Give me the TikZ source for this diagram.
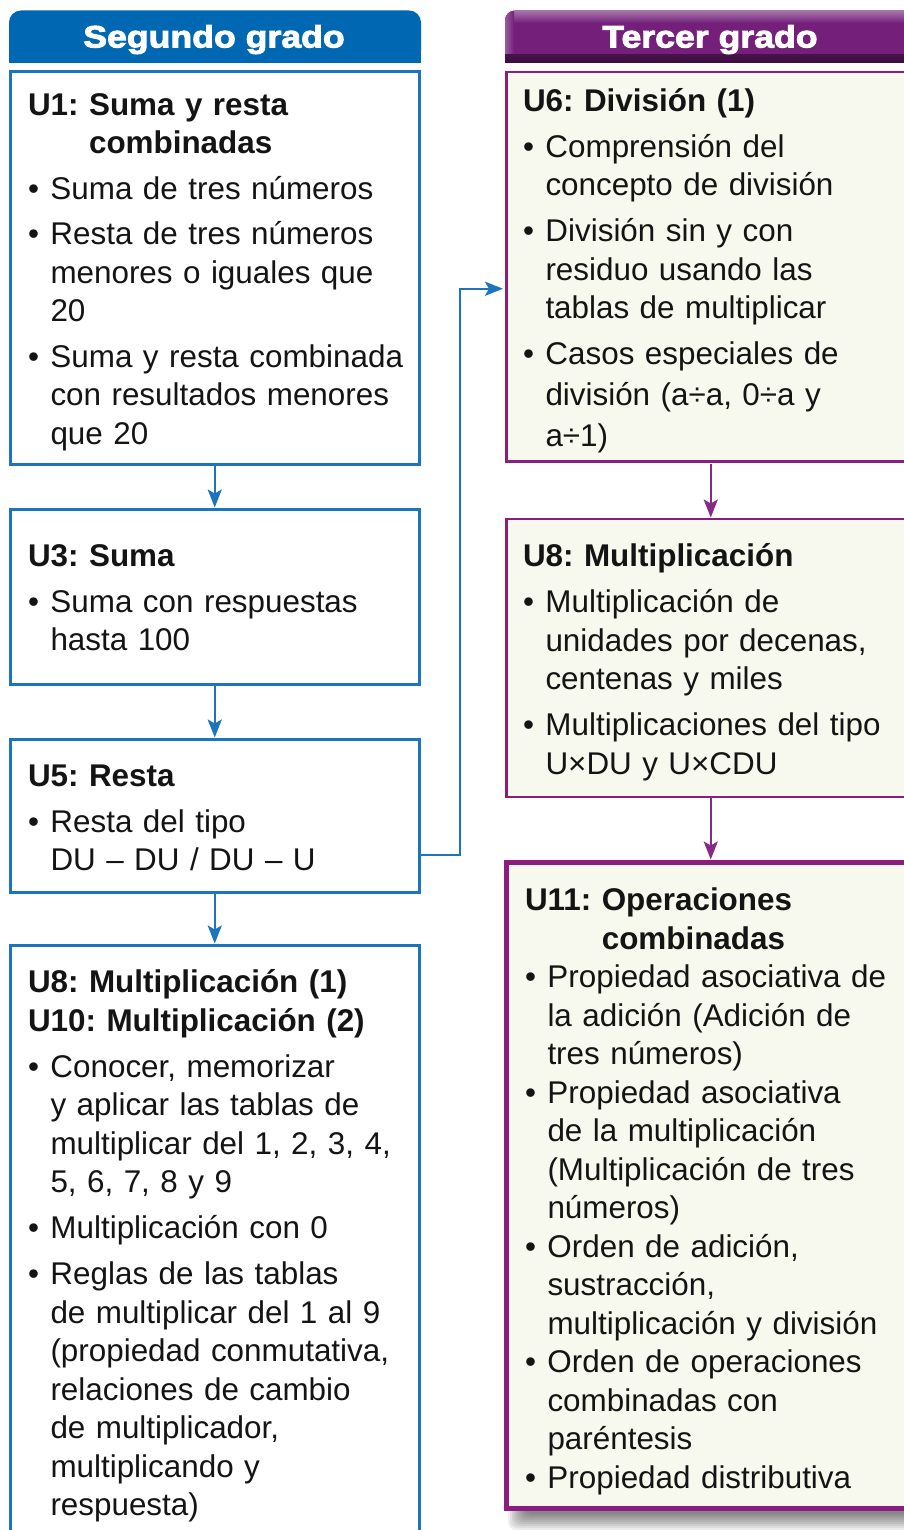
\documentclass[tikz,border=0pt]{standalone}
\usepackage{fontspec}
\setmainfont{Liberation Sans}
\newfontfamily\headfont{Liberation Sans}[UprightFont=* Bold, FakeBold=3, FakeStretch=1.15]
\usetikzlibrary{arrows.meta}
\definecolor{hblue}{HTML}{0068B3}
\definecolor{lblue}{HTML}{1C75BC}
\definecolor{hpurp}{HTML}{74207B}
\definecolor{hpurpL}{HTML}{A676AC}
\definecolor{hpurpD}{HTML}{3A0E3D}
\definecolor{bpurp}{HTML}{8C1D7F}
\definecolor{apurp}{HTML}{862A88}
\definecolor{cream}{HTML}{F7F8EE}
\definecolor{ink}{HTML}{141414}
\newsavebox\hdbox
\newcommand\nl{\hfil\break}
\newcommand\hd[2]{\sbox\hdbox{\bfseries #1\space}\hangindent=\wd\hdbox\hangafter=1\noindent\usebox\hdbox{\bfseries #2}\par}
\newcommand\bi[1]{\hangindent=22.5pt\hangafter=1\noindent\makebox[22.5pt][l]{•}#1\par}
\newcommand\bodyfont{\fontsize{31.4}{38.5}\selectfont\frenchspacing}
\tikzset{
  lbox/.style={draw=lblue, line width=3pt, minimum width=408.5pt, inner sep=0pt, outer sep=0pt, anchor=north west},
  rbox/.style={draw=bpurp, fill=cream, line width=2.5pt, minimum width=408.5pt, inner sep=0pt, outer sep=0pt, anchor=north west},
  txt/.style={anchor=base west, inner sep=0pt, outer sep=0pt, text width=400pt, font=\bodyfont, text=ink},
  headtxt/.style={anchor=base, inner sep=0pt, text=white, font=\headfont\fontsize{31}{31}\selectfont},
  barrow/.style={draw=lblue, line width=2.5pt, -{Stealth[length=18pt,width=14pt,inset=4pt]}},
  parrow/.style={draw=apurp, line width=2.5pt, -{Stealth[length=18pt,width=14pt,inset=4pt]}}
}
\begin{document}
\begin{tikzpicture}[x=1pt,y=-1pt]
\useasboundingbox (0,0) rectangle (904,1530);
\clip (0,0) rectangle (904,1530);
\fill[white] (0,0) rectangle (904,1530);

% ---- headers
\fill[hblue, rounded corners=12pt] (9,10.5) rectangle (421,63);
\fill[hblue] (9,35) rectangle (421,63);
\node[headtxt] (hs) at (214,47.5) {Segundo grado};

\begin{scope}
  \clip[rounded corners=10pt] (505,10.5) rectangle (940,90);
  \fill[hpurp] (505,10.5) rectangle (940,63);
  \shade[top color=hpurpL, bottom color=hpurp] (505,10.5) rectangle (940,23);
  \shade[left color=hpurpL!70!hpurp, right color=hpurp] (505,10.5) rectangle (514,56);
  \shade[top color=hpurpD!80!hpurp, bottom color=hpurpD] (505,55) rectangle (940,63);
\end{scope}
\node[headtxt] (ht) at (710,47.5) {Tercer grado};

% ---- left boxes
\node[lbox, minimum height=392pt] (u1) at (10.5,72) {};
\node[lbox, minimum height=175pt] (u3) at (10.5,509) {};
\node[lbox, minimum height=153.5pt] (u5) at (10.5,739) {};
\node[lbox, minimum height=640pt] (u8l) at (10.5,945) {};

% ---- right boxes
\node[rbox, minimum height=389.5pt] (u6) at (506.5,72) {};
\node[rbox, minimum height=278pt] (u8r) at (506.5,519) {};
\foreach \i in {0,...,8}
  \fill[black, opacity=0.065, rounded corners=8pt] (508+2*\i,866+2*\i) rectangle (940,1530-2*\i);
\node[rbox, line width=5.5pt, minimum height=646pt] (u11) at (506.5,862.5) {};

% ---- connectors
\draw[barrow, shorten >=1.5pt] (u1.south) -- (u3.north);
\draw[barrow, shorten >=1.5pt] (u3.south) -- (u5.north);
\draw[barrow, shorten >=1.5pt] (u5.south) -- (u8l.north);
\draw[barrow, shorten >=3.5pt] ([yshift=-39.25pt]u5.east) -- ++(41,0) |- ([yshift=-22pt]u6.west);
\draw[parrow, shorten >=1.5pt, shorten <=2pt] (u6.south) -- (u8r.north);
\draw[parrow, shorten >=3pt] (u8r.south) -- (u11.north);

% ---- texts left
\node[txt] (t1) at (28,115.5) {%
\hd{U1:}{Suma y resta\nl combinadas}\setlength\parskip{7pt}%
\bi{Suma de tres números}
\bi{Resta de tres números\nl menores o iguales que\nl 20}
\bi{Suma y resta combinada\nl con resultados menores\nl que 20}};

\node[txt] (t3) at (28,566.5) {%
\hd{U3:}{Suma}\setlength\parskip{7pt}%
\bi{Suma con respuestas\nl hasta 100}};

\node[txt] (t5) at (28,786.5) {%
\hd{U5:}{Resta}\setlength\parskip{7pt}%
\bi{Resta del tipo\nl DU – DU / DU – U}};

\node[txt] (t8) at (28,992.5) {%
\noindent{\bfseries U8: Multiplicación (1)\nl U10: Multiplicación (2)}\par\setlength\parskip{7.5pt}%
\bi{Conocer, memorizar\nl y aplicar las tablas de\nl multiplicar del 1, 2, 3, 4,\nl 5, 6, 7, 8 y 9}
\bi{Multiplicación con 0}
\bi{Reglas de las tablas\nl de multiplicar del 1 al 9\nl (propiedad conmutativa,\nl relaciones de cambio\nl de multiplicador,\nl multiplicando y\nl respuesta)}};

% ---- texts right
\node[txt] (r6) at (523,111.5) {%
\hd{U6:}{División (1)}\setlength\parskip{7.5pt}%
\bi{Comprensión del\nl concepto de división}
\bi{División sin y con\nl residuo usando las\nl tablas de multiplicar}
\bi{Casos especiales de\vadjust{\vskip2.5pt}\nl división (a÷a, 0÷a y\vadjust{\vskip2.5pt}\nl a÷1)}};

\node[txt] (r8) at (523,566.5) {%
\hd{U8:}{Multiplicación}\setlength\parskip{7.5pt}%
\bi{Multiplicación de\nl unidades por decenas,\nl centenas y miles}
\bi{Multiplicaciones del tipo\nl U×DU y U×CDU}};

\node[txt] (r11) at (525,910.5) {%
\hd{U11:}{Operaciones\nl combinadas}\setlength\parskip{0pt}%
\bi{Propiedad asociativa de\nl la adición (Adición de\nl tres números)}
\bi{Propiedad asociativa\nl de la multiplicación\nl (Multiplicación de tres\nl números)}
\bi{Orden de adición,\nl sustracción,\nl multiplicación y división}
\bi{Orden de operaciones\nl combinadas con\nl paréntesis}
\bi{Propiedad distributiva}};
\end{tikzpicture}
\end{document}
